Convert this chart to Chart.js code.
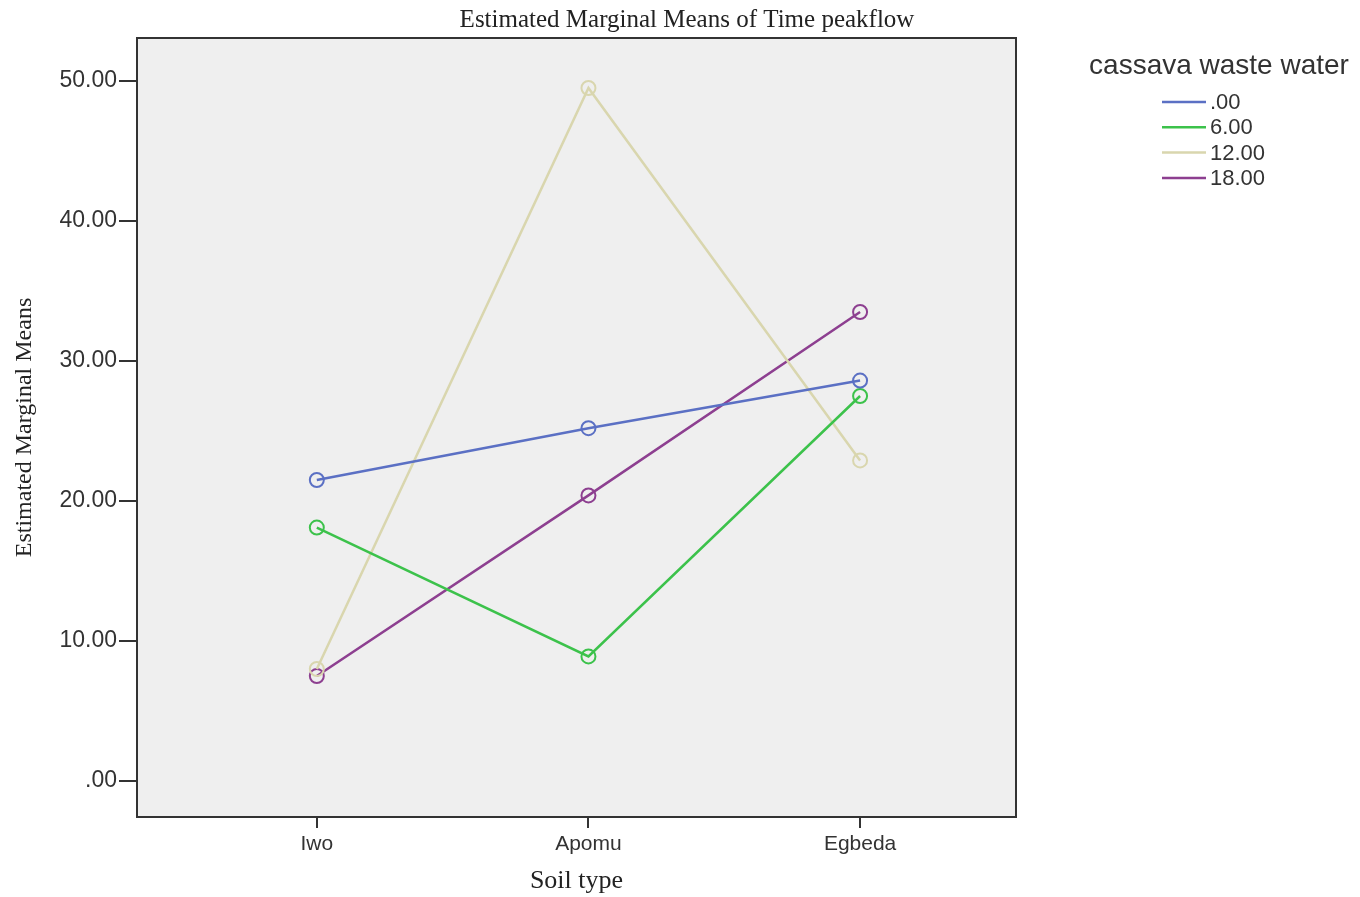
<!DOCTYPE html>
<html>
<head>
<meta charset="utf-8">
<script src="https://cdn.jsdelivr.net/npm/chart.js@4"></script>
<style>
  html, body { margin: 0; padding: 0; background: #fff; }
  #wrap { width: 1360px; height: 897px; }
</style>
</head>
<body>
<div id="wrap"><canvas id="myChart" width="1360" height="897"></canvas></div>
<script>
// soil types along x
const soilTypes = ['Iwo', 'Apomu', 'Egbeda'];
// cassava waste water levels (legend)
const levels = ['.00', '6.00', '12.00', '18.00'];
const levelColors = ['#5b70c4', '#3cc24b', '#d9d6ae', '#8d3f90'];
// estimated marginal means, one array per level
const means00 = [21.5, 25.2, 28.6];
const means06 = [18.1, 8.9, 27.5];
const means12 = [8.0, 49.5, 22.9];
const means18 = [7.5, 20.4, 33.5];
const yTicks = [0, 10, 20, 30, 40, 50];

const seriesValues = [means00, means06, means12, means18];

const AXIS = '#333333';
const SERIF = '"Liberation Serif", "DejaVu Serif", serif';
const SANS = '"Liberation Sans", Arial, sans-serif';

// grey plot panel with a dark frame
const panel = {
  id: 'panel',
  beforeDatasetsDraw(chart) {
    const { ctx, chartArea: a } = chart;
    ctx.save();
    ctx.fillStyle = '#efefef';
    ctx.fillRect(a.left, a.top, a.right - a.left, a.bottom - a.top);
    ctx.strokeStyle = AXIS;
    ctx.lineWidth = 2;
    ctx.strokeRect(a.left, a.top, a.right - a.left, a.bottom - a.top);
    ctx.restore();
  }
};

// heading + legend drawn by hand (heading is centred on the whole page)
const sideLegend = {
  id: 'sideLegend',
  afterDraw(chart) {
    const ctx = chart.ctx;
    ctx.save();
    ctx.fillStyle = '#222';
    ctx.font = '25px ' + SERIF;
    ctx.textAlign = 'center';
    ctx.textBaseline = 'middle';
    ctx.fillText('Estimated Marginal Means of Time peakflow', 687, 20);

    ctx.fillStyle = '#333';
    ctx.font = '28px ' + SANS;
    ctx.fillText('cassava waste water', 1219, 66);
    ctx.font = '22px ' + SANS;
    ctx.textAlign = 'left';
    chart.data.datasets.forEach((ds, i) => {
      const y = 102 + i * 25.3;
      ctx.strokeStyle = ds.borderColor;
      ctx.lineWidth = 2.5;
      ctx.beginPath();
      ctx.moveTo(1162, y);
      ctx.lineTo(1206, y);
      ctx.stroke();
      ctx.fillStyle = '#333';
      ctx.fillText(ds.label, 1210, y + 1);
    });
    ctx.restore();
  }
};

const ctx = document.getElementById('myChart');

new Chart(ctx, {
  type: 'line',
  data: {
    datasets: levels.map((lab, i) => ({
      label: lab,
      data: seriesValues[i].map((v, j) => ({ x: j, y: v })),
      borderColor: levelColors[i],
      borderWidth: 2.5,
      pointStyle: 'circle',
      pointRadius: 7,
      pointBorderWidth: 2,
      pointBorderColor: levelColors[i],
      pointBackgroundColor: 'rgba(0,0,0,0)',
      tension: 0
    }))
  },
  options: {
    responsive: false,
    animation: false,
    layout: { padding: { top: 38, right: 344, bottom: 0, left: 0 } },
    plugins: {
      legend: { display: false },
      tooltip: { enabled: false },
      title: { display: false }
    },
    scales: {
      x: {
        type: 'linear',
        min: -0.662,
        max: 2.574,
        afterBuildTicks(scale) {
          scale.ticks = soilTypes.map((c, i) => ({ value: i }));
        },
        afterFit(scale) { scale.height = 80; },
        ticks: {
          callback: (v) => soilTypes[v],
          color: '#333',
          font: { family: SANS, size: 21 },
          padding: 4,
          maxRotation: 0,
          autoSkip: false
        },
        grid: { drawOnChartArea: false, drawTicks: true, tickLength: 11, color: AXIS, lineWidth: 2 },
        border: { display: false },
        title: {
          display: true,
          text: 'Soil type',
          color: '#222',
          font: { family: SERIF, size: 26 },
          padding: { top: 7, bottom: 0 }
        }
      },
      y: {
        type: 'linear',
        min: -2.57,
        max: 53.07,
        afterBuildTicks(scale) {
          scale.ticks = yTicks.map(v => ({ value: v }));
        },
        afterFit(scale) { scale.width = 137; },
        ticks: {
          callback: (v) => v === 0 ? '.00' : v.toFixed(2),
          color: '#333',
          font: { family: SANS, size: 23 },
          padding: 2
        },
        grid: { drawOnChartArea: false, drawTicks: true, tickLength: 18, color: AXIS, lineWidth: 2 },
        border: { display: false },
        title: {
          display: true,
          text: 'Estimated Marginal Means',
          color: '#222',
          font: { family: SERIF, size: 24 },
          padding: { top: 10, bottom: 0 }
        }
      }
    }
  },
  plugins: [panel, sideLegend]
});
</script>
</body>
</html>
